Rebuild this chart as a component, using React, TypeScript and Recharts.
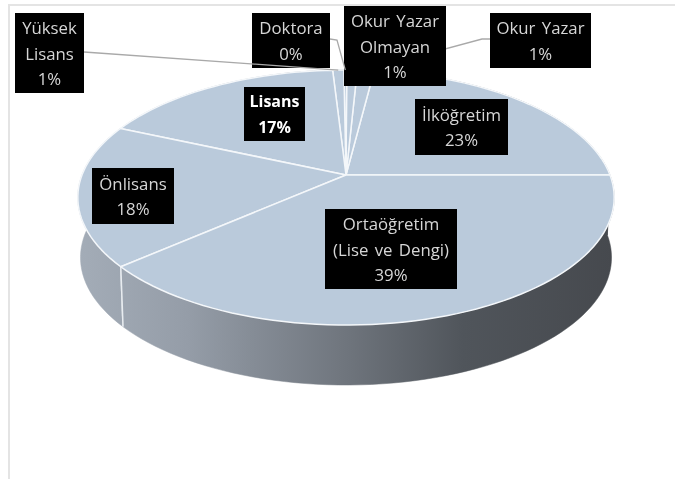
import { PieChart, Pie, Cell } from "recharts";

const categories = ["İlköğretim", "Okur Yazar", "Okur Yazar Olmayan", "Doktora", "Yüksek Lisans", "Lisans", "Önlisans", "Ortaöğretim (Lise ve Dengi)"];
const shares = [23, 1.2, 0.75, 0.2, 0.8, 17.45, 18, 38.6];
const labelLines = [
  ["İlköğretim"],
  ["Okur Yazar"],
  ["Okur Yazar", "Olmayan"],
  ["Doktora"],
  ["Yüksek", "Lisans"],
  ["Lisans"],
  ["Önlisans"],
  ["Ortaöğretim", "(Lise ve Dengi)"],
];

const data = categories.map((name, i) => ({ name, value: shares[i] }));

// label boxes: x, y, w, h
const boxes = [
  [415, 99, 93, 56],
  [490, 13, 101, 55],
  [344, 6, 102, 80],
  [252, 13, 78, 55],
  [15, 13, 69, 80],
  [244, 87, 61, 54],
  [92, 168, 82, 56],
  [325, 209, 132, 80],
];
// leader lines start at the box edge and may have one elbow
const leaders: Record<number, number[][]> = {
  1: [[490, 39], [482, 39]],
  3: [[330, 39], [337, 40]],
  4: [[84, 52]],
};

const TOP_FILL = "#bacadb";
const DEPTH = 60;
const TILT = 0.468; // vertical squash of the disc
const PERSP = -0.1765; // near edge drawn bigger than far edge

// disc angle -> screen point, z = 0 top face, z = 1 bottom of the wall
const project = (cx: number, cy: number, r: number, angle: number, z = 0) => {
  const rad = (angle * Math.PI) / 180;
  const u = Math.cos(rad);
  const v = -Math.sin(rad);
  const w = 1 + PERSP * v;
  return [cx + ((r * u) / w) * (1 - 0.01 * z), cy + (r * TILT * v) / w + DEPTH * z];
};

const arcPoints = (p: any, z: number) => {
  const pts = [];
  const steps = Math.max(2, Math.ceil(Math.abs(p.endAngle - p.startAngle) / 2));
  for (let i = 0; i <= steps; i++) {
    const a = p.startAngle + ((p.endAngle - p.startAngle) * i) / steps;
    pts.push(project(p.cx, p.cy, p.outerRadius, a, z));
  }
  return pts;
};

const toPath = (pts: number[][]) => pts.map((q) => q.join(",")).join(" ");

const TopSlice = (p: any) => {
  const pts = [[p.cx, p.cy], ...arcPoints(p, 0)];
  return <polygon points={toPath(pts)} fill={TOP_FILL} stroke="#f4f7fa" strokeWidth={1.5} strokeLinejoin="round" />;
};

const WallSlice = (p: any) => {
  const top = arcPoints(p, 0);
  const bottom = arcPoints(p, 1);
  const pts = [...top, ...bottom.slice().reverse()];
  const edges = [p.startAngle, p.endAngle].filter((a) => Math.sin((a * Math.PI) / 180) < -0.05);
  return (
    <g>
      <polygon points={toPath(pts)} fill="url(#wallShade)" stroke="url(#wallShade)" strokeWidth={0.5} />
      {edges.map((a) => {
        const s = project(p.cx, p.cy, p.outerRadius, a, 0);
        const e = project(p.cx, p.cy, p.outerRadius, a, 1);
        return <line key={a} x1={s[0]} y1={s[1]} x2={e[0]} y2={e[1]} stroke="#e8ecf0" strokeWidth={1.5} />;
      })}
    </g>
  );
};

const renderLabel = (p: any) => {
  const i = p.index;
  const [x, y, w, h] = boxes[i];
  const bold = categories[i] === "Lisans";
  const lines = [...labelLines[i], `${Math.round(p.percent * 100)}%`];
  const lineH = 25.3;
  const firstY = y + h / 2 - ((lines.length - 1) * lineH) / 2;
  const end = project(p.cx, p.cy, p.outerRadius, p.midAngle, 0);
  return (
    <g key={categories[i]}>
      {leaders[i] && (
        <polyline points={toPath([...leaders[i], end])} fill="none" stroke="#a9a9a9" strokeWidth={1.3} />
      )}
      <rect x={x} y={y} width={w} height={h} fill="#000" />
      {lines.map((t, k) => (
        <text
          key={k}
          x={x + w / 2}
          y={firstY + k * lineH}
          textAnchor="middle"
          dominantBaseline="central"
          fontFamily="'Open Sans', sans-serif"
          fontSize={bold ? 16 : 16.8}
          wordSpacing={2}
          fontWeight={bold ? 700 : 400}
          fill={bold ? "#ffffff" : "#d6d6d6"}
        >
          {t}
        </text>
      ))}
    </g>
  );
};

export default function App() {
  return (
    <div style={{ position: "absolute", left: 0, top: 0, width: 675, height: 479, background: "#fff" }}>
      <div style={{ position: "absolute", left: 8, top: 4, right: 0, bottom: 0, borderLeft: "2px solid #e4e4e4", borderTop: "2px solid #e4e4e4" }} />
      <div style={{ position: "absolute", left: 0, top: 0, filter: "blur(0.4px)" }}>
        <PieChart width={675} height={479} margin={{ top: 0, right: 0, bottom: 0, left: 0 }}>
          <defs>
            <linearGradient id="wallShade" gradientUnits="userSpaceOnUse" x1={80} y1={0} x2={612} y2={0}>
              <stop offset="0%" stopColor="#a3acb7" />
              <stop offset="20%" stopColor="#959da8" />
              <stop offset="50%" stopColor="#6f757d" />
              <stop offset="72%" stopColor="#50555b" />
              <stop offset="100%" stopColor="#46494e" />
            </linearGradient>
          </defs>
          <Pie
            data={data}
            dataKey="value"
            cx={346}
            cy={175}
            innerRadius={0}
            outerRadius={264}
            startAngle={0}
            endAngle={360}
            stroke="none"
            shape={WallSlice}
            label={false}
            labelLine={false}
            isAnimationActive={false}
          >
            {data.map((d) => (
              <Cell key={d.name} fill="#6f757d" />
            ))}
          </Pie>
          <Pie
            data={data}
            dataKey="value"
            cx={346}
            cy={175}
            innerRadius={0}
            outerRadius={264}
            startAngle={0}
            endAngle={360}
            stroke="none"
            shape={TopSlice}
            label={renderLabel}
            labelLine={false}
            isAnimationActive={false}
          >
            {data.map((d) => (
              <Cell key={d.name} fill={TOP_FILL} />
            ))}
          </Pie>
        </PieChart>
      </div>
    </div>
  );
}
